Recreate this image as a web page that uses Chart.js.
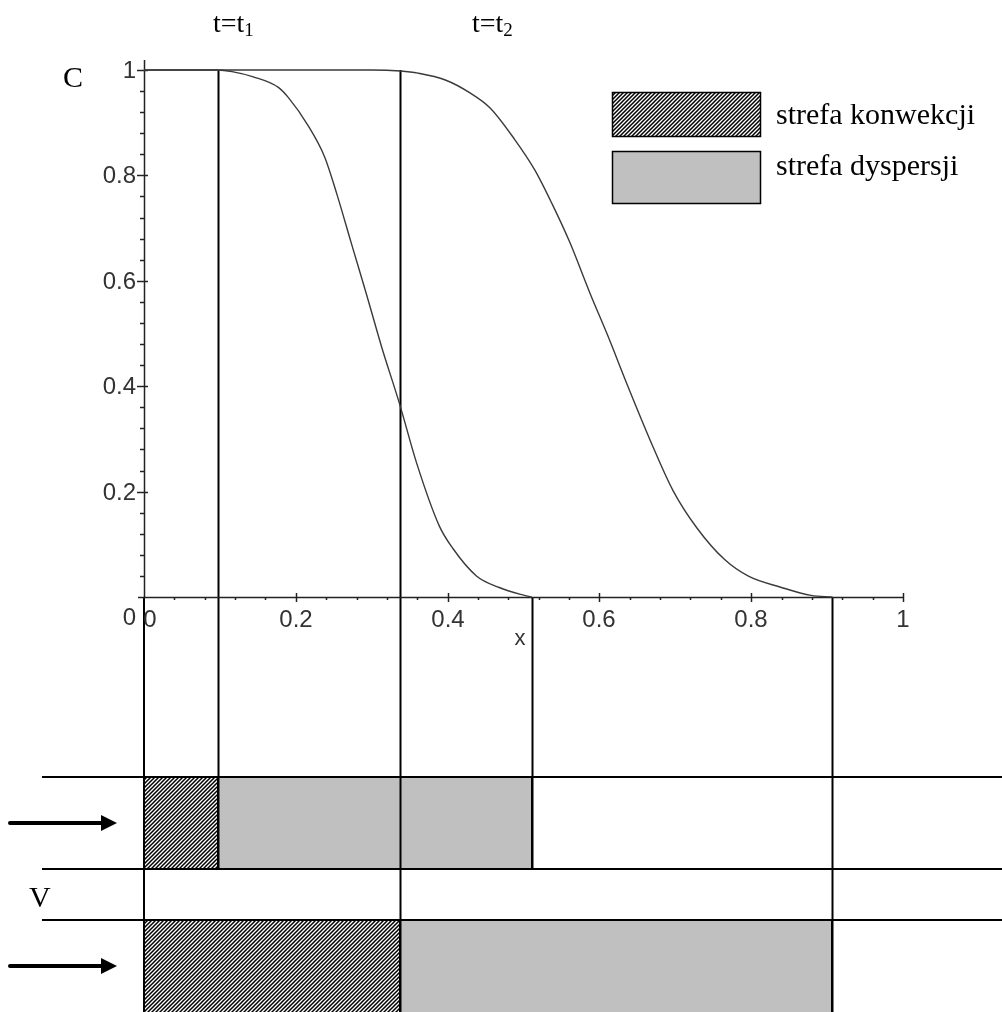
<!DOCTYPE html>
<html>
<head>
<meta charset="utf-8">
<script src="https://cdn.jsdelivr.net/npm/chart.js@4.4.1/dist/chart.umd.min.js"></script>
<style>
  html, body { margin: 0; padding: 0; background: #fff; }
  #wrap { width: 1002px; height: 1012px; }
</style>
</head>
<body>
<div id="wrap"><canvas id="chart" width="1002" height="1012"></canvas></div>
<script>
// concentration profile C(x) at t = t1
const xT1 = [0, 0.097, 0.116, 0.144, 0.177, 0.190, 0.216, 0.238, 0.254, 0.273, 0.293, 0.313, 0.337, 0.359, 0.389, 0.407, 0.438, 0.468, 0.499, 0.511];
const cT1 = [1, 1, 0.997, 0.987, 0.967, 0.948, 0.895, 0.835, 0.765, 0.672, 0.575, 0.475, 0.365, 0.255, 0.135, 0.092, 0.040, 0.018, 0.004, 0];

// concentration profile C(x) at t = t2
const xT2 = [0, 0.300, 0.338, 0.361, 0.397, 0.429, 0.456, 0.488, 0.515, 0.538, 0.561, 0.588, 0.611, 0.638, 0.670, 0.697, 0.729, 0.765, 0.797, 0.838, 0.879, 0.907];
const cT2 = [1, 1, 0.998, 0.994, 0.981, 0.957, 0.928, 0.869, 0.810, 0.745, 0.673, 0.575, 0.496, 0.398, 0.287, 0.202, 0.130, 0.071, 0.039, 0.019, 0.003, 0];

// convective front and end of dispersion zone, for t1 and t2
const frontX = [0.097, 0.337];
const tailX = [0.511, 0.907];
const timeSubs = ["1", "2"];

const majorTicks = [0.2, 0.4, 0.6, 0.8, 1];
const minorTicks = [0.04, 0.08, 0.12, 0.16, 0.24, 0.28, 0.32, 0.36, 0.44, 0.48, 0.52, 0.56,
                    0.64, 0.68, 0.72, 0.76, 0.84, 0.88, 0.92, 0.96];
const zoneNames = ["strefa konwekcji", "strefa dyspersji"];

// layout (pixels)
const W = 1002, H = 1012;
const AREA = { left: 144, top: 70, right: 903, bottom: 597 };
const PIPES = [{ top: 777, bottom: 869 }, { top: 920, bottom: 1014 }];
const PIPE_LEFT = 42;
const T_LABEL_X = [213, 472];
const LEGEND = { x: 612, w: 148, boxes: [{ y: 92, h: 44 }, { y: 151, h: 52 }], textX: 776, baselines: [124, 175] };

const SERIF = '"Liberation Serif", "Times New Roman", serif';
const SANS = '"Liberation Sans", Arial, sans-serif';
const GRAY = "#c0c0c0";

function makeHatch(ctx) {
  const c = document.createElement("canvas");
  c.width = 4; c.height = 4;
  const g = c.getContext("2d");
  g.fillStyle = "#fff";
  g.fillRect(0, 0, 4, 4);
  g.strokeStyle = "#000";
  g.lineWidth = 1.5;
  g.beginPath();
  g.moveTo(-1, 5); g.lineTo(5, -1);
  g.moveTo(-1, 1); g.lineTo(1, -1);
  g.moveTo(3, 5); g.lineTo(5, 3);
  g.stroke();
  return ctx.createPattern(c, "repeat");
}

function vline(ctx, x, y0, y1, w) {
  ctx.lineWidth = w;
  ctx.beginPath();
  ctx.moveTo(x, y0);
  ctx.lineTo(x, y1);
  ctx.stroke();
}

function hline(ctx, y, x0, x1, w) {
  ctx.lineWidth = w;
  ctx.beginPath();
  ctx.moveTo(x0, y);
  ctx.lineTo(x1, y);
  ctx.stroke();
}

function zoneBox(ctx, fill, x0, y0, x1, y1) {
  ctx.fillStyle = fill;
  ctx.fillRect(x0, y0, x1 - x0, y1 - y0);
  ctx.lineWidth = 2;
  ctx.strokeStyle = "#000";
  ctx.strokeRect(x0, y0, x1 - x0, y1 - y0);
}

function arrow(ctx, x0, x1, y) {
  ctx.strokeStyle = "#000";
  ctx.fillStyle = "#000";
  ctx.lineWidth = 4;
  ctx.lineCap = "round";
  ctx.beginPath();
  ctx.moveTo(x0, y);
  ctx.lineTo(x1 - 14, y);
  ctx.stroke();
  ctx.lineCap = "butt";
  ctx.beginPath();
  ctx.moveTo(x1, y);
  ctx.lineTo(x1 - 16, y - 8);
  ctx.lineTo(x1 - 16, y + 8);
  ctx.closePath();
  ctx.fill();
}

const schematic = {
  id: "schematic",
  beforeDatasetsDraw(chart) {
    const ctx = chart.ctx;
    const xs = chart.scales.x, ys = chart.scales.y;
    const px = (v) => Math.round(xs.getPixelForValue(v));
    const py = (v) => Math.round(ys.getPixelForValue(v));
    const hatch = makeHatch(ctx);
    ctx.save();

    // pipe sections below the plot
    PIPES.forEach((p, i) => {
      zoneBox(ctx, hatch, px(0), p.top, px(frontX[i]), p.bottom);
      zoneBox(ctx, GRAY, px(frontX[i]), p.top, px(tailX[i]), p.bottom);
    });
    ctx.strokeStyle = "#000";
    PIPES.forEach((p) => {
      hline(ctx, p.top, PIPE_LEFT, W, 2);
      if (p.bottom < H) hline(ctx, p.bottom, PIPE_LEFT, W, 2);
    });

    // guide lines from the profiles down to the pipes
    vline(ctx, px(0), py(0), H, 2);
    frontX.forEach((fx, i) => vline(ctx, px(fx) + 0.5, py(1), PIPES[i].bottom, 2));
    tailX.forEach((tx, i) => vline(ctx, px(tx) + 0.5, py(0), PIPES[i].bottom, 2));

    // axes (crossing at the origin)
    ctx.strokeStyle = "#222";
    hline(ctx, py(0) + 0.5, px(0) - 6, px(1), 1.5);
    vline(ctx, px(0) + 0.5, py(1) - 10, py(0), 1.5);
    minorTicks.forEach((v) => {
      vline(ctx, px(v) + 0.5, py(0), py(0) + 3, 1.5);
      hline(ctx, py(v) + 0.5, px(0) - 4, px(0), 1.5);
    });
    majorTicks.forEach((v) => {
      vline(ctx, px(v) + 0.5, py(0) - 4, py(0) + 5, 1.5);
      hline(ctx, py(v) + 0.5, px(0) - 7, px(0) + 4, 1.5);
    });

    ctx.fillStyle = "#333";
    ctx.font = "24px " + SANS;
    ctx.textBaseline = "top";
    ctx.textAlign = "center";
    majorTicks.forEach((v) => ctx.fillText(String(v), px(v), py(0) + 11));
    ctx.fillText("0", px(0) + 6, py(0) + 11);
    ctx.textAlign = "right";
    ctx.textBaseline = "middle";
    majorTicks.forEach((v) => ctx.fillText(String(v), px(0) - 8, py(v) + 1));
    ctx.textBaseline = "top";
    ctx.fillText("0", px(0) - 8, py(0) + 9);
    ctx.textAlign = "center";
    ctx.textBaseline = "alphabetic";
    ctx.font = "22px " + SANS;
    ctx.fillText("x", px(0.5) - 4, py(0) + 48);
    ctx.restore();
  },
  afterDraw(chart) {
    const ctx = chart.ctx;
    ctx.save();
    ctx.fillStyle = "#000";
    ctx.textAlign = "left";
    ctx.textBaseline = "alphabetic";

    // time labels t=t1, t=t2
    timeSubs.forEach((s, i) => {
      ctx.font = "28px " + SERIF;
      ctx.fillText("t=t", T_LABEL_X[i], 32);
      const w = ctx.measureText("t=t").width;
      ctx.font = "19px " + SERIF;
      ctx.fillText(s, T_LABEL_X[i] + w, 36);
    });

    ctx.font = "30px " + SERIF;
    ctx.fillText("C", 63, 87);
    ctx.fillText("V", 29, 907);

    // legend
    const hatch = makeHatch(ctx);
    const fills = [hatch, GRAY];
    LEGEND.boxes.forEach((b, i) => {
      ctx.fillStyle = fills[i];
      ctx.fillRect(LEGEND.x, b.y, LEGEND.w, b.h);
      ctx.strokeStyle = "#000";
      ctx.lineWidth = 1.5;
      ctx.strokeRect(LEGEND.x + 0.5, b.y + 0.5, LEGEND.w, b.h);
      ctx.fillStyle = "#000";
      ctx.font = "30px " + SERIF;
      ctx.fillText(zoneNames[i], LEGEND.textX, LEGEND.baselines[i]);
    });

    PIPES.forEach((p) => arrow(ctx, 10, 117, Math.round((p.top + Math.min(p.bottom, H)) / 2)));
    ctx.restore();
  }
};

const toPoints = (xs, cs) => xs.map((x, i) => ({ x: x, y: cs[i] }));

new Chart(document.getElementById("chart"), {
  type: "scatter",
  data: {
    datasets: [
      { label: "t1", data: toPoints(xT1, cT1) },
      { label: "t2", data: toPoints(xT2, cT2) },
    ].map((d) => Object.assign(d, {
      showLine: true,
      borderColor: "#3a3a3a",
      borderWidth: 1.4,
      pointRadius: 0,
      cubicInterpolationMode: "monotone",
      clip: false,
    })),
  },
  options: {
    responsive: false,
    animation: false,
    devicePixelRatio: 1,
    layout: {
      padding: { left: AREA.left, top: AREA.top, right: W - AREA.right, bottom: H - AREA.bottom },
    },
    scales: {
      x: { type: "linear", min: 0, max: 1, display: false },
      y: { type: "linear", min: 0, max: 1, display: false },
    },
    plugins: {
      legend: { display: false },
      tooltip: { enabled: false },
    },
  },
  plugins: [schematic],
});
</script>
</body>
</html>
